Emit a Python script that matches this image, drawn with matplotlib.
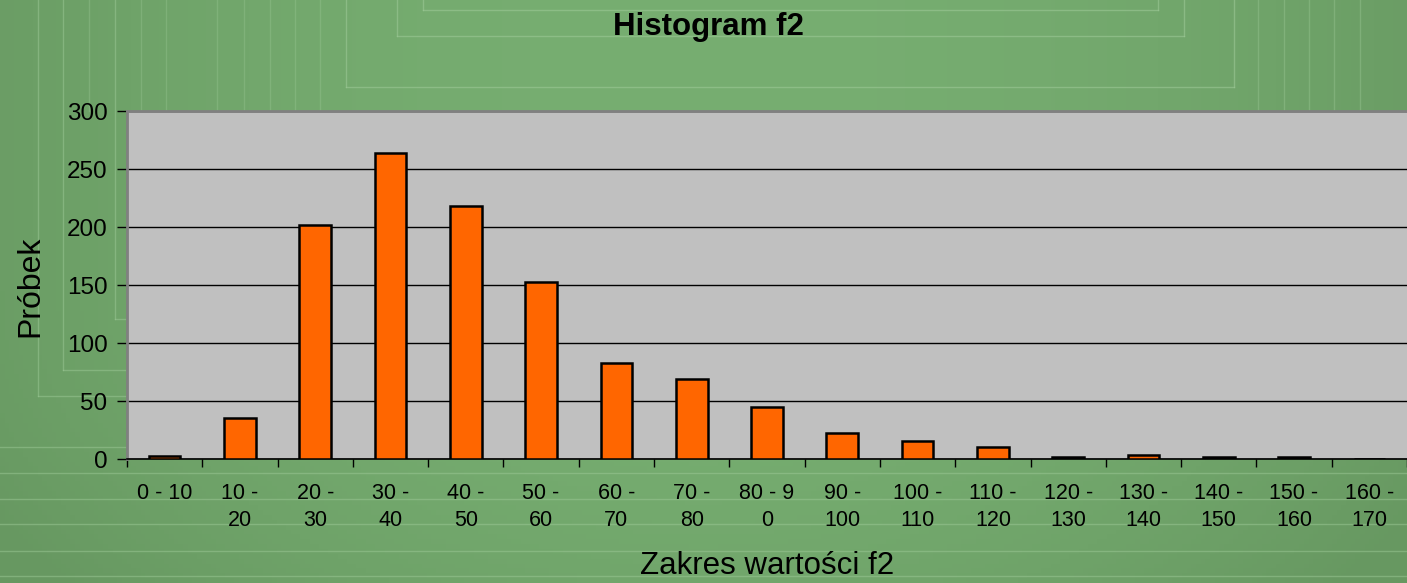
import numpy as np
import matplotlib
matplotlib.use("Agg")
import matplotlib.pyplot as plt
from matplotlib.lines import Line2D

plt.rcParams['font.family'] = ['Liberation Sans', 'DejaVu Sans']

# ---- data ----
categories = ["0 - 10", "10 -\n20", "20 -\n30", "30 -\n40", "40 -\n50", "50 -\n60",
              "60 -\n70", "70 -\n80", "80 - 9\n0", "90 -\n100", "100 -\n110", "110 -\n120",
              "120 -\n130", "130 -\n140", "140 -\n150", "150 -\n160", "160 -\n170"]
counts = [3, 36, 202, 264, 218, 153, 83, 69, 45, 23, 16, 11, 2, 4, 2, 2, 0]
yticks = [0, 50, 100, 150, 200, 250, 300]
title = "Histogram f2"
xlabel = "Zakres wartości f2"
ylabel = "Próbek"

W, H = 1407, 583
fig = plt.figure(figsize=(W / 100, H / 100), dpi=100)

# ---- background gradient ----
bg = fig.add_axes([0, 0, 1, 1], zorder=-10)
xx = np.linspace(-1, 1, 300)
yy = np.linspace(-1, 1, 120)
X, Y = np.meshgrid(xx, yy)
t = np.clip(1 - 0.75 * X**2 - 0.35 * np.clip(Y, 0, None)**2, 0, 1)
c0 = np.array([0x67, 0x98, 0x61]) / 255
c1 = np.array([0x77, 0xAE, 0x71]) / 255
img = c0[None, None, :] * (1 - t[..., None]) + c1[None, None, :] * t[..., None]
bg.imshow(img, aspect='auto', extent=[0, 1, 0, 1], origin='upper')
bg.set_axis_off()

# decorative faint lines
lc = '#9CC896'
def hline(y, x0, x1, a=0.6):
    fig.add_artist(Line2D([x0 / W, x1 / W], [1 - y / H, 1 - y / H], color=lc, lw=1, alpha=a, zorder=-5))
def vline(x, y0, y1, a=0.6):
    fig.add_artist(Line2D([x / W, x / W], [1 - y0 / H, 1 - y1 / H], color=lc, lw=1, alpha=a, zorder=-5))

for y, x0, x1 in [(10, 423, 1158), (36, 397, 1184), (87, 346, 1234)]:
    hline(y, x0, x1)
    vline(x0, 0, y)
    vline(x1, 0, y)
for x, y in [(38, 396), (63, 370), (115, 319)]:
    vline(x, 0, y, 0.5)
    hline(y, x, 127, 0.5)
for x in [89, 141, 166, 217, 244, 270, 295, 320]:
    vline(x, 0, 111, 0.35)
for x in [1258, 1284, 1309, 1334, 1360]:
    vline(x, 0, 111, 0.4)
for y in [447, 473, 499, 524, 551, 576]:
    hline(y, 0, W, 0.5)

# ---- main plot ----
ax = fig.add_axes([127 / W, (H - 459.3) / H, 1 - 127 / W, 348.3 / H])
ax.set_facecolor('#C0C0C0')
x = np.arange(len(categories))
ax.bar(x, counts, width=0.42, color='#FF6600', edgecolor='black', linewidth=1.8, zorder=3)
ax.set_xlim(-0.5, len(categories) - 0.5)
ax.set_ylim(0, 300)

ax.set_yticks(yticks)
ax.set_yticklabels([str(v) for v in yticks], fontsize=17.5)
ax.tick_params(axis='y', length=7, width=1, pad=7, color='black')
ax.yaxis.grid(True, color='black', linewidth=1, zorder=1)
ax.set_axisbelow(True)

ax.set_xticks(np.arange(len(categories) + 1) - 0.5)
ax.set_xticklabels([])
ax.tick_params(axis='x', which='major', length=6, width=1, color='black')
ax.set_xticks(x, minor=True)
ax.set_xticklabels(categories, minor=True, fontsize=15.5, linespacing=1.4)
ax.tick_params(axis='x', which='minor', length=0, pad=17)

for s in ['left', 'top']:
    ax.spines[s].set_color('#808080')
    ax.spines[s].set_linewidth(2)
ax.spines['right'].set_visible(False)
ax.spines['bottom'].set_color('black')
ax.spines['bottom'].set_linewidth(1.2)

fig.text(708 / W, 1 - 27 / H, title, ha='center', va='center', fontsize=22.5, fontweight='bold')
fig.text(767 / W, 1 - 581 / H, xlabel, ha='center', va='bottom', fontsize=22.5)
fig.text(30 / W, 1 - 286 / H, ylabel, ha='center', va='center', fontsize=23, rotation=90)

fig.savefig('out.png', dpi=100)
